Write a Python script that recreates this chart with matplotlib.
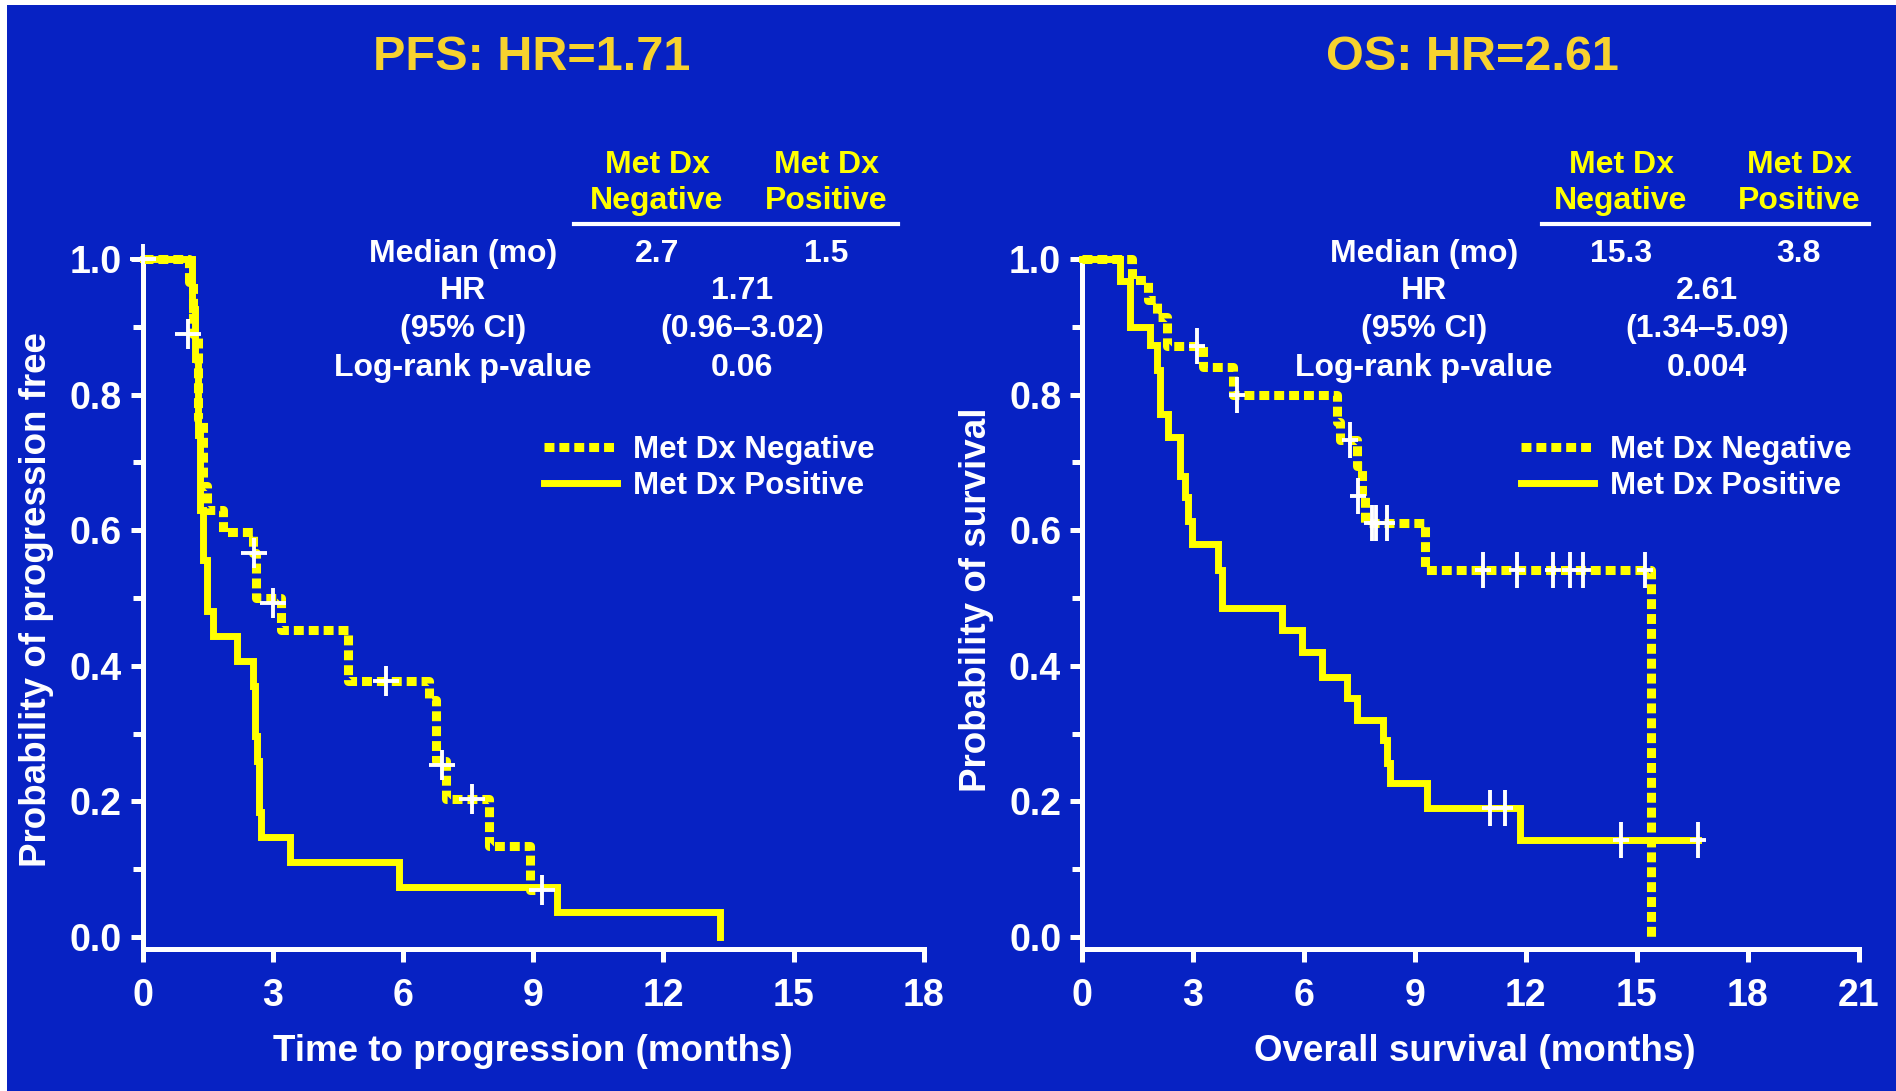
import matplotlib
matplotlib.use('Agg')
import matplotlib.pyplot as plt
from matplotlib.path import Path
from matplotlib.patches import Rectangle
from matplotlib.lines import Line2D
from matplotlib.ticker import MultipleLocator

W, H = 1896, 1091
BLUE = '#0722C3'
YELLOW = '#FFFF00'
GOLD = '#F7D22E'
WHITE = '#FFFFFF'

plt.rcParams['font.family'] = ['Liberation Sans', 'DejaVu Sans']
plt.rcParams['font.weight'] = 'bold'
plt.rcParams['axes.labelweight'] = 'bold'

# --- PFS panel data (months, probability) ---
pfs_neg_t = [0, 1.08, 1.17, 1.29, 1.40, 1.48, 1.85, 2.55, 2.62, 3.2, 4.74, 6.6, 6.77, 7.0, 7.98, 8.93]
pfs_neg_s = [1.0, 0.966, 0.89, 0.764, 0.665, 0.63, 0.597, 0.566, 0.50, 0.453, 0.377, 0.35, 0.26, 0.203, 0.134, 0.07]
pfs_neg_end = 9.2
pfs_neg_cens_t = [0.0, 1.05, 2.57, 3.0, 5.6, 6.9, 7.6, 9.2]
pfs_neg_cens_s = [1.0, 0.89, 0.566, 0.493, 0.377, 0.254, 0.203, 0.07]

pfs_pos_t = [0, 1.15, 1.22, 1.27, 1.32, 1.39, 1.48, 1.63, 2.17, 2.55, 2.6, 2.64, 2.68, 2.72, 3.4, 5.9, 9.55, 13.3]
pfs_pos_s = [1.0, 0.926, 0.852, 0.741, 0.63, 0.556, 0.481, 0.444, 0.407, 0.37, 0.296, 0.259, 0.185, 0.148, 0.111, 0.074, 0.037, 0.0]
pfs_pos_end = 13.3

# --- OS panel data ---
os_neg_t = [0, 1.34, 1.78, 2.02, 2.29, 3.28, 4.09, 6.89, 6.98, 7.43, 7.56, 7.65, 9.28, 15.4]
os_neg_s = [1.0, 0.969, 0.94, 0.915, 0.871, 0.841, 0.80, 0.76, 0.733, 0.694, 0.65, 0.61, 0.542, 0.0]
os_neg_end = 15.4
os_neg_cens_t = [3.1, 4.18, 7.25, 7.47, 7.85, 7.95, 8.24, 10.84, 11.76, 12.75, 13.2, 13.56, 15.22]
os_neg_cens_s = [0.871, 0.80, 0.733, 0.65, 0.61, 0.61, 0.61, 0.542, 0.542, 0.542, 0.542, 0.542, 0.542]

os_pos_t = [0, 1.03, 1.30, 1.84, 2.02, 2.11, 2.33, 2.65, 2.78, 2.87, 2.97, 3.69, 3.78, 5.4, 5.94, 6.48, 7.16, 7.43, 8.15, 8.24, 8.33, 9.32, 11.84]
os_pos_s = [1.0, 0.967, 0.90, 0.873, 0.836, 0.772, 0.738, 0.68, 0.649, 0.613, 0.58, 0.541, 0.485, 0.453, 0.421, 0.384, 0.352, 0.32, 0.29, 0.257, 0.227, 0.19, 0.143]
os_pos_end = 16.67
os_pos_cens_t = [11.03, 11.44, 14.59, 16.67]
os_pos_cens_s = [0.19, 0.19, 0.143, 0.143]

# --- text ---
titles = ['PFS: HR=1.71', 'OS: HR=2.61']
xlabels = ['Time to progression (months)', 'Overall survival (months)']
ylabels = ['Probability of progression free', 'Probability of survival']
legend_labels = ['Met Dx Negative', 'Met Dx Positive']
header_top = ['Met Dx', 'Met Dx']
header_bottom = ['Negative', 'Positive']
row_labels = ['Median (mo)', 'HR', '(95% CI)', 'Log-rank p-value']
pfs_median = ['2.7', '1.5']
pfs_stats = ['1.71', '(0.96\u20133.02)', '0.06']
os_median = ['15.3', '3.8']
os_stats = ['2.61', '(1.34\u20135.09)', '0.004']


def fx(x):
  return x / W


def fy(y):
  return 1 - y / H


def cross(ratio):
  verts = [(-ratio, 0), (ratio, 0), (0, -1), (0, 1)]
  codes = [Path.MOVETO, Path.LINETO, Path.MOVETO, Path.LINETO]
  return Path(verts, codes)


DOTS = (0, (1.1, 0.55))


def style_axes(ax, xmax):
  ax.set_facecolor('none')
  ax.set_xlim(0, xmax)
  ax.set_ylim(-0.0177, 1.0)
  for side in ('top', 'right'):
    ax.spines[side].set_visible(False)
  for side in ('left', 'bottom'):
    ax.spines[side].set_color(WHITE)
    ax.spines[side].set_linewidth(3.6)
  ax.set_xticks(range(0, xmax + 1, 3))
  ax.yaxis.set_major_locator(MultipleLocator(0.2))
  ax.yaxis.set_minor_locator(MultipleLocator(0.1))
  ax.yaxis.set_major_formatter('{x:.1f}')
  ax.tick_params(which='both', colors=WHITE, labelsize=27, width=3.6)
  ax.tick_params(which='major', length=9)
  ax.tick_params(which='minor', length=7)
  ax.tick_params(axis='y', pad=6)
  ax.tick_params(axis='x', pad=12)


def draw_curve(ax, t, s, end, dotted):
  xs = t + [end]
  ys = s + [s[-1]]
  if dotted:
    ax.step(xs, ys, where='post', color=YELLOW, lw=6.5, linestyle=DOTS,
            dash_capstyle='butt', clip_on=False, zorder=3)
  else:
    ax.step(xs, ys, where='post', color=YELLOW, lw=5, clip_on=False,
            solid_joinstyle='miter', zorder=3)


def draw_censor(ax, t, s, ratio, size):
  ax.plot(t, s, linestyle='none', marker=cross(ratio), ms=size, mew=2.8,
          color=WHITE, clip_on=False, zorder=4)


def draw_table(fig, label_x, neg_x, pos_x, stat_x, rule, median, stats):
  for i, col_x in enumerate([neg_x, pos_x]):
    fig.text(fx(col_x), fy(165), header_top[i], color=YELLOW, fontsize=23,
             ha='center', va='center')
    fig.text(fx(col_x), fy(201), header_bottom[i], color=YELLOW, fontsize=23,
             ha='center', va='center')
  fig.add_artist(Line2D([fx(rule[0]), fx(rule[1])], [fy(224), fy(224)],
                        color=WHITE, lw=3))
  rows_y = [254, 291, 329, 368]
  for lab, y in zip(row_labels, rows_y):
    fig.text(fx(label_x), fy(y), lab, color=WHITE, fontsize=23,
             ha='center', va='center')
  fig.text(fx(neg_x), fy(rows_y[0]), median[0], color=WHITE, fontsize=23,
           ha='center', va='center')
  fig.text(fx(pos_x), fy(rows_y[0]), median[1], color=WHITE, fontsize=23,
           ha='center', va='center')
  for val, y in zip(stats, rows_y[1:]):
    fig.text(fx(stat_x), fy(y), val, color=WHITE, fontsize=23,
             ha='center', va='center')


def draw_legend(ax, fig, x, y):
  handles = [Line2D([], [], color=YELLOW, lw=6.5, linestyle=DOTS, dash_capstyle='butt'),
             Line2D([], [], color=YELLOW, lw=5)]
  ax.legend(handles, legend_labels, loc='upper left',
            bbox_to_anchor=(fx(x), fy(y)), bbox_transform=fig.transFigure,
            frameon=False, handlelength=2.35, handletextpad=0.5,
            labelspacing=0.2, borderpad=0, borderaxespad=0, fontsize=22.5,
            labelcolor=WHITE)


def main():
  fig = plt.figure(figsize=(W / 100, H / 100), dpi=100, facecolor='white')
  fig.add_artist(Rectangle((fx(7), 0), 1 - fx(7), 1 - 5 / H, transform=fig.transFigure,
                           facecolor=BLUE, edgecolor='none', zorder=0))

  bottom = 1 - 949 / H
  height = (949 - 259) / H
  ax1 = fig.add_axes([fx(142.5), bottom, (923.8 - 142.5) / W, height])
  ax2 = fig.add_axes([fx(1082), bottom, (1858.5 - 1082) / W, height])
  style_axes(ax1, 18)
  style_axes(ax2, 21)

  draw_curve(ax1, pfs_neg_t, pfs_neg_s, pfs_neg_end, True)
  draw_curve(ax1, pfs_pos_t, pfs_pos_s, pfs_pos_end, False)
  draw_censor(ax1, pfs_neg_cens_t, pfs_neg_cens_s, 0.9, 21)

  draw_curve(ax2, os_neg_t, os_neg_s, os_neg_end, True)
  draw_curve(ax2, os_pos_t, os_pos_s, os_pos_end, False)
  draw_censor(ax2, os_neg_cens_t, os_neg_cens_s, 0.45, 26)
  draw_censor(ax2, os_pos_cens_t, os_pos_cens_s, 0.45, 26)

  for ax, xl, yl in zip([ax1, ax2], xlabels, ylabels):
    ax.set_xlabel(xl, color=WHITE, fontsize=26.5, fontweight='bold')
    ax.set_ylabel(yl, color=WHITE, fontsize=26.5, fontweight='bold')
  ax1.xaxis.set_label_coords(0.5, -0.123)
  ax2.xaxis.set_label_coords(0.506, -0.123)
  ax1.yaxis.set_label_coords(-0.113, 0.506)
  ax2.yaxis.set_label_coords(-0.113, 0.506)

  fig.text(fx(532), fy(58), titles[0], color=GOLD, fontsize=35, ha='center', va='center')
  fig.text(fx(1472), fy(58), titles[1], color=GOLD, fontsize=35, ha='center', va='center')

  draw_table(fig, 463, 657, 826, 742, (574, 898), pfs_median, pfs_stats)
  draw_table(fig, 1424, 1621, 1799, 1707, (1542, 1869), os_median, os_stats)

  draw_legend(ax1, fig, 544, 435)
  draw_legend(ax2, fig, 1521, 435)

  fig.savefig('out.png', dpi=100, facecolor=fig.get_facecolor())


if __name__ == '__main__':
  main()
